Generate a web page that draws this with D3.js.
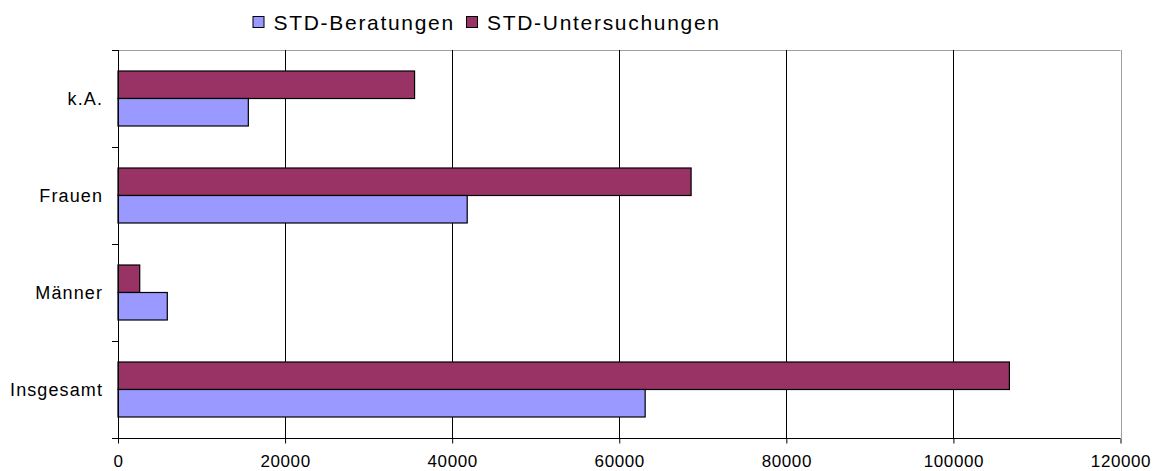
<!DOCTYPE html>
<html>
<head>
<meta charset="utf-8">
<script src="https://cdn.jsdelivr.net/npm/d3@7"></script>
<style>
  html, body { margin: 0; padding: 0; background: #fff; }
  svg { display: block; font-family: "Liberation Sans", Arial, sans-serif; }
</style>
</head>
<body>
<svg id="chart" width="1154" height="471"></svg>
<script>
// ---- data ----
const categories = ["k.A.", "Frauen", "Männer", "Insgesamt"];
const seriesNames = ["STD-Untersuchungen", "STD-Beratungen"];
const untersuchungen = [35500, 68600, 2600, 106700];
const beratungen = [15600, 41800, 5900, 63100];
const xTicks = [0, 20000, 40000, 60000, 80000, 100000, 120000];
const legendOrder = ["STD-Beratungen", "STD-Untersuchungen"];

// ---- styles ----
const colors = { "STD-Beratungen": "#9999FF", "STD-Untersuchungen": "#993366" };
const values = { "STD-Untersuchungen": untersuchungen, "STD-Beratungen": beratungen };

const svg = d3.select("#chart");
const mLeft = 118, mRight = 1120.5, mTop = 50, mBottom = 438;

const x = d3.scaleLinear().domain([0, 120000]).range([mLeft, mRight]);
const y0 = d3.scaleBand().domain(categories).range([mTop, mBottom]).padding(0);
const y1 = d3.scaleBand().domain(seriesNames).range([0, y0.bandwidth()])
  .paddingInner(0).paddingOuter(0.764);

// plot border (top, gray)
svg.append("line").attr("x1", mLeft).attr("x2", mRight).attr("y1", mTop + 0.5).attr("y2", mTop + 0.5)
  .attr("stroke", "#a0a0a0").attr("stroke-width", 1);

// gridlines
svg.append("g").selectAll("line").data(xTicks.filter(d => d > 0)).join("line")
  .attr("x1", d => Math.round(x(d)) + 0.5).attr("x2", d => Math.round(x(d)) + 0.5)
  .attr("y1", mTop).attr("y2", mBottom)
  .attr("stroke", d => d === 120000 ? "#a0a0a0" : "#000").attr("stroke-width", 1);

// bars
const groups = svg.append("g").selectAll("g").data(categories).join("g")
  .attr("transform", d => `translate(0,${y0(d)})`);
groups.selectAll("rect").data((c, i) => seriesNames.map(s => ({ s, v: values[s][i] }))).join("rect")
  .attr("x", x(0))
  .attr("y", d => y1(d.s))
  .attr("width", d => x(d.v) - x(0))
  .attr("height", y1.bandwidth())
  .attr("fill", d => colors[d.s])
  .attr("stroke", "#000").attr("stroke-width", 1.2);

// x axis
const xAxis = d3.axisBottom(x).tickValues(xTicks).tickFormat(d3.format("d")).tickSize(5).tickPadding(11);
const gx = svg.append("g").attr("transform", `translate(0,${mBottom + 0.5})`).call(xAxis);
gx.select(".domain").attr("stroke", "#000").attr("d", `M${mLeft},0H${mRight}`);
gx.selectAll(".tick line").attr("stroke", "#000");
gx.selectAll("text").attr("font-size", 17).attr("letter-spacing", 0.6).attr("fill", "#000")
  .attr("font-family", "Liberation Sans, Arial, sans-serif");

// y axis: line, ticks at band boundaries, labels centered in bands
svg.append("line").attr("x1", mLeft + 0.5).attr("x2", mLeft + 0.5).attr("y1", mTop).attr("y2", mBottom + 5)
  .attr("stroke", "#000");
const boundaries = categories.map(c => y0(c)).concat([mBottom]);
svg.append("g").selectAll("line").data(boundaries).join("line")
  .attr("x1", mLeft - 6).attr("x2", mLeft)
  .attr("y1", d => Math.round(d) + 0.5).attr("y2", d => Math.round(d) + 0.5)
  .attr("stroke", "#000");
svg.append("g").selectAll("text").data(categories).join("text")
  .attr("x", mLeft - 15)
  .attr("y", d => y0(d) + y0.bandwidth() / 2)
  .attr("dy", "0.35em")
  .attr("text-anchor", "end")
  .attr("font-size", 18)
  .attr("letter-spacing", 1.1)
  .attr("fill", "#000")
  .text(d => d);

// legend
const legendX = [252.5, 466];
const lg = svg.append("g").selectAll("g").data(legendOrder).join("g")
  .attr("transform", (d, i) => `translate(${legendX[i]},16)`);
lg.append("rect").attr("x", 0.5).attr("y", 0.5).attr("width", 11).attr("height", 11)
  .attr("fill", d => colors[d]).attr("stroke", "#000").attr("stroke-width", 1);
lg.append("text").attr("x", 21).attr("y", 14)
  .attr("font-size", 21).attr("letter-spacing", 1.7).attr("fill", "#000")
  .text(d => d);
</script>
</body>
</html>
